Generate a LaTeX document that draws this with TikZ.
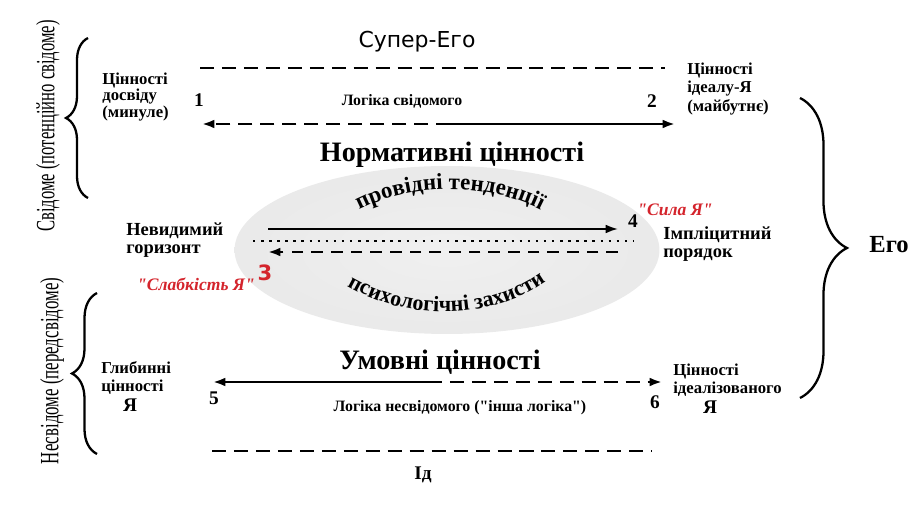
\documentclass[tikz,border=0pt]{standalone}
\usepackage{fontspec}
\setmainfont{Liberation Serif}
\newfontfamily\supfont{DejaVu Sans}
\newfontfamily\qserif{Liberation Serif}
\usetikzlibrary{arrows.meta,decorations.pathreplacing,decorations.text}
\definecolor{slabred}{RGB}{212,36,44}
\pgfdeclareradialshading{haze}{\pgfpoint{0bp}{0bp}}{color(0bp)=(gray!12); color(26bp)=(gray!17); color(40bp)=(gray!25); color(45bp)=(gray!14); color(50bp)=(white); color(100bp)=(white)}

\begin{document}
\begin{tikzpicture}
  [x=0.02cm,y=-0.02cm,
   lbl/.style={font=\bfseries\fontsize{9.5}{10.3}\selectfont,align=left,anchor=west,inner sep=0pt},
   num/.style={font=\bfseries\fontsize{11}{11}\selectfont,inner sep=0pt},
   head/.style={font=\bfseries\fontsize{16}{16}\selectfont,inner sep=0pt},
   redlbl/.style={font=\qserif\bfseries\itshape\fontsize{10}{10}\selectfont,text=slabred,inner sep=0pt},
   side/.style={rotate=90,font=\fontsize{15}{15}\selectfont,inner sep=0pt},
   dline/.style={line width=1.5pt,dash pattern=on 8pt off 4.5pt},
   arr/.style={line width=1.3pt,-{Latex[length=7pt,width=5pt]}},
   curly/.style={line width=1.3pt,decorate,decoration={brace,amplitude=#1}}]
  \useasboundingbox (0,0) rectangle (914,516);
  \shade[shading=haze] (447,250) ellipse [x radius=4.25cm,y radius=1.68cm];

  % upper level
  \node[font=\supfont\fontsize{12.5}{12.5}\selectfont] (superego) at (417,42) {Супер-Его};
  \node[lbl,font=\bfseries\fontsize{9.5}{8.6}\selectfont] (dosvid) at (102,97) {Цінності\\досвіду\\(минуле)};
  \node[num] (n1) at (199,100) {1};
  \node[lbl,anchor=center,font=\bfseries\fontsize{9}{9}\selectfont] (logsv) at (402,101) {Логіка свідомого};
  \node[num] (n2) at (652,101) {2};
  \node[lbl] (ideal) at (687,89) {Цінності\\ідеалу-Я\\(майбутнє)};
  \node[head] (norm) at (452,155) {Нормативні цінності};

  \coordinate (t1) at (200,68);  \coordinate (t2) at (665,68);
  \coordinate (a1l) at (202,124); \coordinate (a1m) at (450,124); \coordinate (a1r) at (675,124);

  % middle level
  \path[decorate,decoration={text along path,text align=center,
    text={|\bfseries\fontsize{13}{13}\selectfont|провідні тенденції}}]
    (350,215) .. controls (406,181) and (494,181) .. (550,215);
  \path[decorate,decoration={text along path,text align=fit to path,
    text={|\bfseries\fontsize{12.5}{12.5}\selectfont|психологічні захисти}}]
    (347,286) .. controls (408,321) and (487,321) .. (543,283);
  \node[lbl,font=\bfseries\fontsize{10.5}{10.5}\selectfont] (nevyd) at (126,240) {Невидимий\\горизонт};
  \node[lbl,font=\bfseries\fontsize{10.5}{10.5}\selectfont] (impl) at (663,244) {Імпліцитний\\порядок};
  \node[num] (n4) at (633,221) {4};
  \node[redlbl,anchor=west] (syla) at (637,210) {"Сила Я"};
  \node[num,font=\supfont\bfseries\fontsize{12}{12}\selectfont,text=slabred] (n3) at (265,273) {3};
  \node[redlbl] (slab) at (196,284) {"Слабкість Я"};

  \coordinate (m1l) at (268,229); \coordinate (m1r) at (618,229);
  \coordinate (dl) at (253,241);  \coordinate (dr) at (633,241);
  \coordinate (m3r) at (618,252); \coordinate (m3l) at (268,252);

  % lower level
  \node[head] (umovni) at (440,362) {Умовні цінності};
  \node[lbl] (hlyb) at (101,378) {Глибинні\\цінності};
  \node[num] (ya1) at (130,405) {Я};
  \node[num] (n5) at (214,398) {5};
  \node[num] (n6) at (655,402) {6};
  \node[lbl] (idealiz) at (673,380) {Цінності\\ідеалізованого};
  \node[num] (ya2) at (710,407) {Я};
  \node[lbl,anchor=center,font=\qserif\bfseries\fontsize{9}{9}\selectfont] (lognesv) at (460,408) {Логіка несвідомого ("інша логіка")};
  \node[num] (id) at (423,475) {Ід};

  \coordinate (b1l) at (213,382); \coordinate (b1m) at (428,382); \coordinate (b1r) at (662,382);
  \coordinate (b2l) at (212,451); \coordinate (b2r) at (652,451);

  % lines and arrows
  \foreach \from/\to in {t1/t2,b2l/b2r}
    \draw[dline] (\from) -- (\to);
  \foreach \from/\to in {a1m/a1r,b1m/b1l}
    \draw[arr] (\from) -- (\to);
  \foreach \from/\to in {a1m/a1l,b1m/b1r}
    \draw[arr,dline] (\from) -- (\to);
  \draw[arr,line width=1.1pt] (m1l) -- (m1r);
  \draw[line width=1.4pt,dash pattern=on 1.4pt off 3.2pt] (dl) -- (dr);
  \draw[arr,line width=1.4pt,dash pattern=on 6.6pt off 4.6pt] (m3r) -- (m3l);

  % braces
  \coordinate (br1a) at (88,198);  \coordinate (br1b) at (88,38);
  \coordinate (br2a) at (97,454);  \coordinate (br2b) at (97,293);
  \coordinate (br3a) at (800,98);  \coordinate (br3b) at (800,398);
  \draw[curly=0.44cm] (br1a) -- (br1b);
  \draw[curly=0.5cm] (br2a) -- (br2b);
  \draw[curly=0.94cm] (br3a) -- (br3b);
  \node[side] (svid) at (48,126) {\scalebox{0.63}[1]{Свідоме (потенційно свідоме)}};
  \node[side] (nesvid) at (52,371) {\scalebox{0.64}[1]{Несвідоме (передсвідоме)}};
  \node[head,font=\bfseries\fontsize{14}{14}\selectfont] (ego) at (889,245) {Его};
\end{tikzpicture}
\end{document}
